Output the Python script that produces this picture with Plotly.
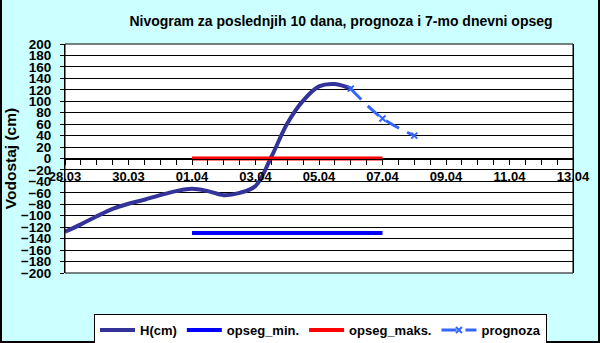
import plotly.graph_objects as go

# ---- data ----
h_dates = ["2024-03-28 00:00", "2024-03-28 12:00", "2024-03-29 00:00", "2024-03-29 12:00",
           "2024-03-30 00:00", "2024-03-30 12:00", "2024-03-31 00:00", "2024-03-31 12:00",
           "2024-04-01 00:00", "2024-04-01 12:00", "2024-04-02 00:00", "2024-04-02 12:00",
           "2024-04-03 00:00", "2024-04-03 12:00", "2024-04-04 00:00", "2024-04-04 12:00",
           "2024-04-05 00:00", "2024-04-05 12:00", "2024-04-06 00:00"]
h_values = [-128, -115, -101, -88, -79, -72, -64, -57, -53, -57, -64, -60, -48, 3, 61, 101, 126, 130, 122]

range_dates = ["2024-04-01", "2024-04-07"]
opseg_min = [-130, -130]
opseg_maks = [0, 0]

prog_dates = ["2024-04-06", "2024-04-07", "2024-04-08"]
prog_values = [122, 70, 40]

x_range = ["2024-03-28", "2024-04-13"]
y_range = [-200, 200]

W, H = 600, 343
ML, MR, MT, MB = 65, 27, 44, 70
PW, PH = W - ML - MR, H - MT - MB

FONT = "Liberation Sans, Arial, sans-serif"

def px_x(px):
    return (px - ML) / PW

def px_y(py):
    return (H - MB - py) / PH

fig = go.Figure()
fig.add_trace(go.Scatter(x=h_dates, y=h_values, name="H(cm)", mode="lines",
                         line=dict(color="#333399", width=4, shape="spline", smoothing=1.0)))
fig.add_trace(go.Scatter(x=range_dates, y=opseg_min, name="opseg_min.", mode="lines",
                         line=dict(color="#0000FF", width=4)))
fig.add_trace(go.Scatter(x=range_dates, y=opseg_maks, name="opseg_maks.", mode="lines",
                         line=dict(color="#FF0000", width=4)))
fig.add_trace(go.Scatter(x=prog_dates, y=prog_values, name="prognoza", mode="lines+markers",
                         line=dict(color="#3366FF", width=3, dash="15px,9px", shape="spline"),
                         marker=dict(symbol="x-thin", size=6, color="#3366FF",
                                     line=dict(color="#3366FF", width=2))))

shapes = [
    # plot area border
    dict(type="rect", xref="paper", yref="paper", x0=0, x1=1, y0=0, y1=1,
         line=dict(color="black", width=1), layer="above"),
    # legend shadow
    dict(type="rect", xref="paper", yref="paper", x0=px_x(97), x1=px_x(546),
         y0=px_y(341), y1=px_y(317), fillcolor="black", line=dict(width=0), layer="below"),
    # outer frame
    dict(type="line", xref="paper", yref="paper", x0=px_x(1), x1=px_x(1), y0=px_y(0), y1=px_y(343),
         line=dict(color="black", width=2)),
    dict(type="line", xref="paper", yref="paper", x0=px_x(599), x1=px_x(599), y0=px_y(0), y1=px_y(343),
         line=dict(color="black", width=2)),
    dict(type="line", xref="paper", yref="paper", x0=px_x(0), x1=px_x(600), y0=px_y(342), y1=px_y(342),
         line=dict(color="black", width=2)),
]

fig.update_layout(
    width=W, height=H,
    margin=dict(l=ML, r=MR, t=MT, b=MB, autoexpand=False),
    paper_bgcolor="#CCFFFF", plot_bgcolor="white",
    font=dict(family=FONT, size=12, color="black", weight="bold"),
    title=dict(text="Nivogram za poslednjih 10 dana, prognoza i 7-mo dnevni opseg",
               x=341 / W, xref="container", xanchor="center",
               y=1 - 21 / H, yref="container", yanchor="middle",
               font=dict(family=FONT, size=14, color="black", weight="bold")),
    xaxis=dict(type="date", range=x_range, tickformat="%d.%m", tick0="2024-03-28",
               dtick=2 * 86400000, ticks="outside", ticklen=5, tickcolor="black",
               minor=dict(dtick=43200000, ticks="outside", ticklen=5, tickcolor="black", showgrid=False),
               anchor="free", position=0.5, showline=True, linecolor="black",
               showgrid=False, zeroline=False, ticklabelstandoff=1,
               tickfont=dict(family=FONT, size=13, color="black", weight="bold")),
    yaxis=dict(range=y_range, dtick=20, tick0=0, showgrid=True, gridcolor="black", gridwidth=1,
               showline=True, linecolor="black", mirror=True, ticks="outside", ticklen=4,
               tickcolor="black", zeroline=False, ticklabelstandoff=6,
               tickfont=dict(family=FONT, size=13.5, color="black", weight="bold"),
               title=dict(text="Vodostaj (cm)", standoff=0,
                          font=dict(family=FONT, size=15.5, color="black", weight="bold"))),
    legend=dict(orientation="h", x=94 / W, xref="container", xanchor="left",
                y=1 - 314 / H, yref="container", yanchor="top",
                bgcolor="white", bordercolor="black", borderwidth=1,
                font=dict(family=FONT, size=13, color="black", weight="bold"),
                itemwidth=35, tracegroupgap=0),
    shapes=shapes,
    showlegend=True,
)

fig.write_html("out.html")
